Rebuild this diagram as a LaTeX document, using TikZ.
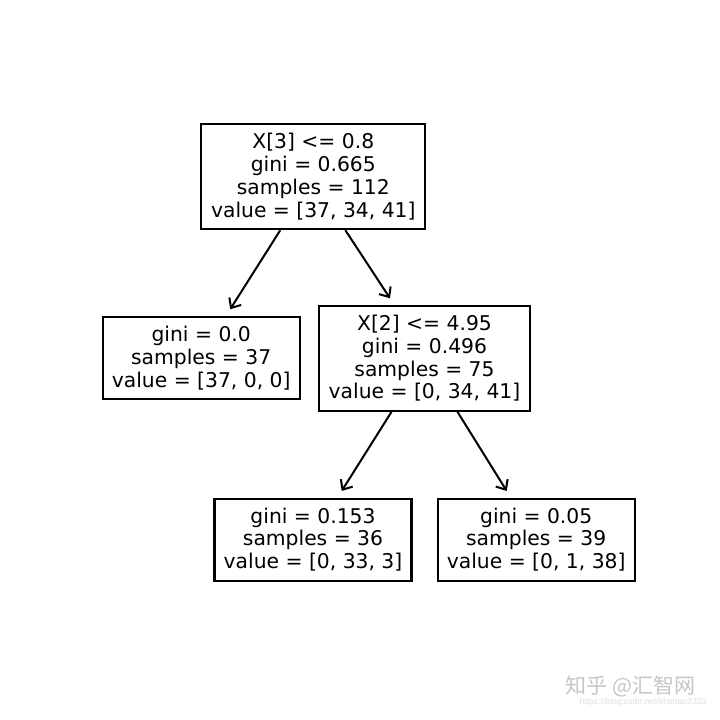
\documentclass[tikz,border=0pt]{standalone}
\usepackage{fontspec}
\setmainfont{DejaVu Sans}
\newfontfamily\cjkfont{Noto Sans CJK SC}
\newfontfamily\urlfont{Liberation Sans}
\usetikzlibrary{arrows.meta,calc}
\begin{document}
\begin{tikzpicture}[x=1pt,y=-1pt,
  treebox/.style={draw=black,line width=2.1pt,fill=white,align=center,inner sep=0pt,
    font=\fontsize{20.3}{22.7}\selectfont},
  bigbox/.style={treebox,minimum height=105pt},
  leafbox/.style={treebox,minimum width=197pt,minimum height=82pt},
  arr/.style={line width=2pt,-{Straight Barb[length=8pt,width=14pt]}}]
\useasboundingbox[fill=white] (0,0) rectangle (720,720);
\node[bigbox,minimum width=224pt] (root) at (313.3,176.6) {X[3] <= 0.8\\gini = 0.665\\samples = 112\\value = [37, 34, 41]};
\node[leafbox] (leafL) at (201.2,358.3) {gini = 0.0\\samples = 37\\value = [37, 0, 0]};
\node[bigbox,minimum width=211pt] (mid) at (424.5,358.3) {X[2] <= 4.95\\gini = 0.496\\samples = 75\\value = [0, 34, 41]};
\node[leafbox] (bl) at (313,539.6) {gini = 0.153\\samples = 36\\value = [0, 33, 3]};
\node[leafbox] (br) at (536.2,539.6) {gini = 0.05\\samples = 39\\value = [0, 1, 38]};
\draw[arr] ($(root.south)+(-33,0)$) -- ($(leafL.north)+(29,-7)$);
\draw[arr] ($(root.south)+(32,0)$) -- ($(mid.north)+(-34.5,-6.5)$);
\draw[arr] ($(mid.south)+(-33,0)$) -- ($(bl.north)+(28.7,-6.6)$);
\draw[arr] ($(mid.south)+(33,0)$) -- ($(br.north)+(-29.5,-6.6)$);
\node[text=gray!45,font=\cjkfont\fontsize{21}{22}\selectfont,inner sep=0pt] (wm) at (630.5,686) {知乎 @汇智网};
\node[text=gray!25,font=\urlfont\fontsize{8.6}{9}\selectfont,inner sep=0pt] (url) at (643,702) {https://blog.csdn.net/shebao3333};
\end{tikzpicture}
\end{document}
